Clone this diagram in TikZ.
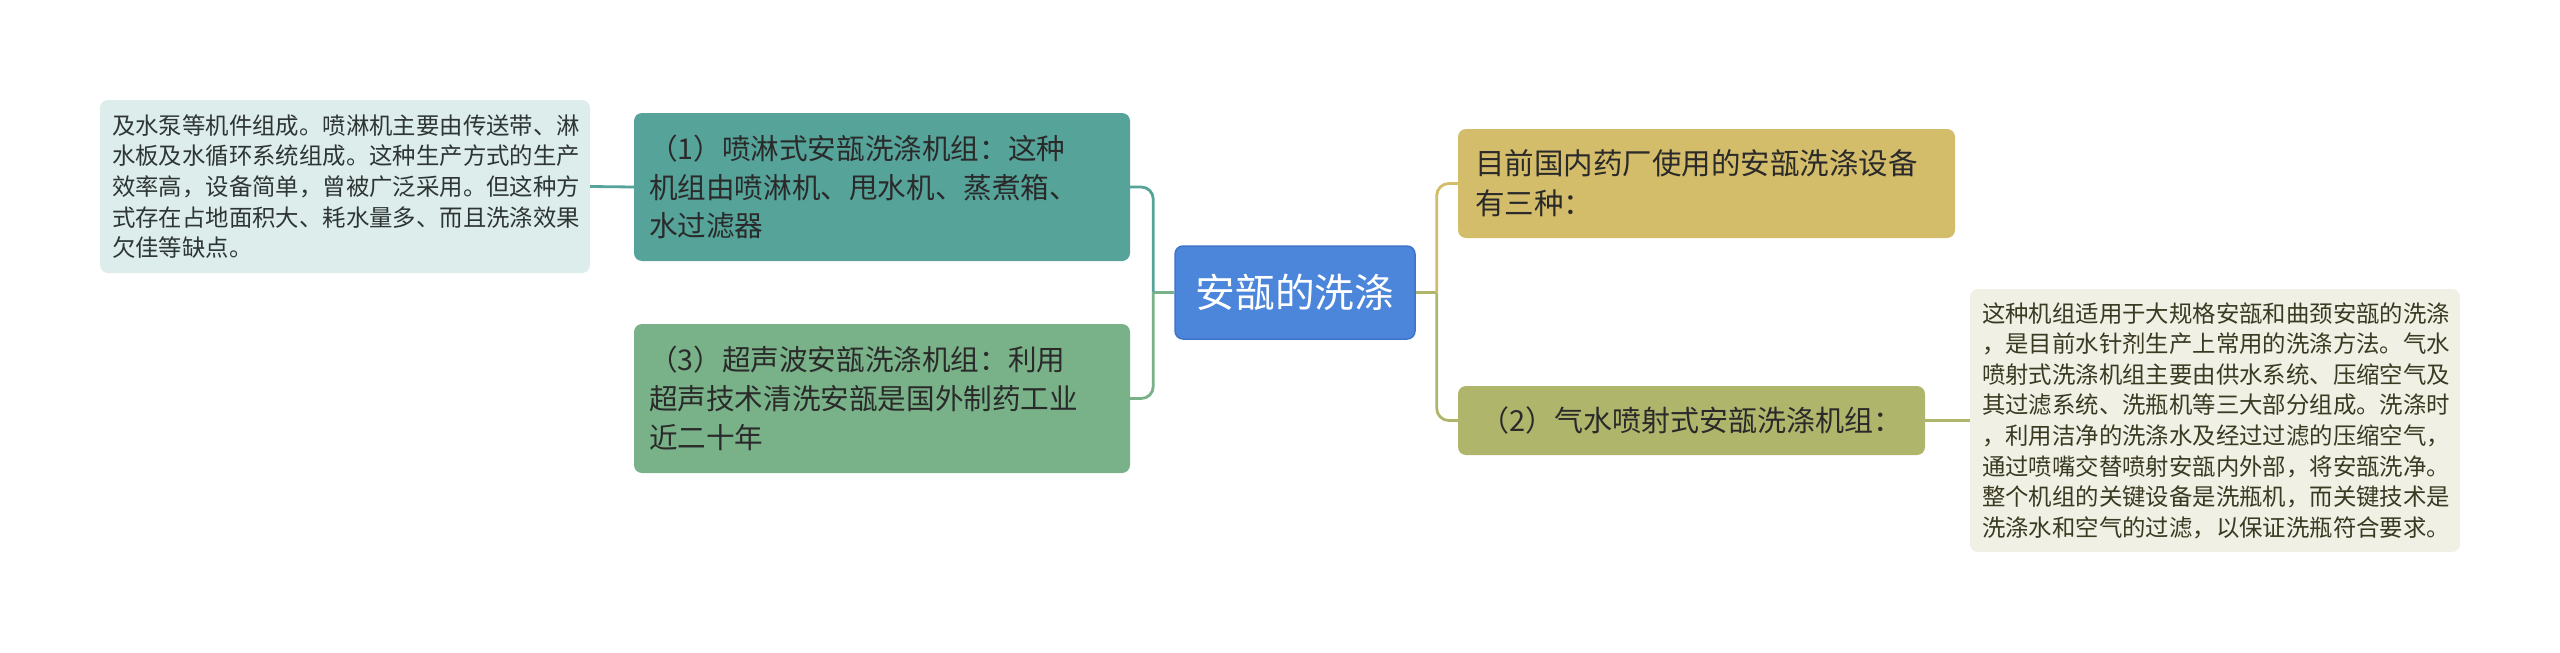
\documentclass[tikz,border=0pt]{standalone}
\usepackage{fontspec}
\setmainfont{Noto Sans CJK SC}
\definecolor{leafLfill}{HTML}{DDEDEB}
\definecolor{leafRfill}{HTML}{F0F0E5}
\definecolor{tealc}{HTML}{55A399}
\definecolor{greenc}{HTML}{79B288}
\definecolor{bluec}{HTML}{4C86DA}
\definecolor{blueb}{HTML}{3F74C9}
\definecolor{goldc}{HTML}{D3BC6A}
\definecolor{olivec}{HTML}{AFB66C}
\definecolor{darktext}{HTML}{2A2A2A}
\definecolor{olivetext}{HTML}{3A3A22}
\begin{document}
\begin{tikzpicture}[x=1pt,y=-1pt]
\useasboundingbox (0,0) rectangle (2560,653);
\tikzset{
  base/.style={rounded corners=8pt, inner ysep=0pt, anchor=center, text=darktext},
  leafbox/.style={base, minimum height=173pt, inner xsep=12pt, text width=466pt, align=left,
    font=\fontsize{23.4}{30.6}\selectfont},
  subbox/.style={base, inner xsep=15pt, text width=466pt, align=left,
    font=\fontsize{28.6}{38.8}\selectfont},
  rootbox/.style={base, fill=bluec, draw=blueb, line width=1.5pt, text=white,
    minimum width=240pt, minimum height=93pt, inner xsep=0pt,
    font=\fontsize{39.7}{46}\selectfont},
  link/.style={line width=2.8pt},
}
% nodes
\node[rootbox] (root) at (1295,292.5) {安瓿的洗涤};
\node[subbox, fill=tealc, minimum height=148pt] (n1) at (882,187) {（1）喷淋式安瓿洗涤机组：这种\\机组由喷淋机、甩水机、蒸煮箱、\\水过滤器};
\node[subbox, fill=greenc, minimum height=149pt] (n3) at (882,398.5) {（3）超声波安瓿洗涤机组：利用\\超声技术清洗安瓿是国外制药工业\\近二十年};
\node[leafbox, fill=leafLfill, text=darktext!90!tealc] (lleaf) at (345,186.5) {及水泵等机件组成。喷淋机主要由传送带、淋\\水板及水循环系统组成。这种生产方式的生产\\效率高，设备简单，曾被广泛采用。但这种方\\式存在占地面积大、耗水量多、而且洗涤效果\\欠佳等缺点。};
\node[base, fill=goldc, minimum height=109pt, inner xsep=17pt, text width=463pt, align=left,
  font=\fontsize{29.5}{40}\selectfont] (ntop) at (1706.5,183.5) {目前国内药厂使用的安瓿洗涤设备\\有三种：};
\node[base, fill=olivec, minimum width=467pt, minimum height=69pt, inner xsep=0pt,
  font=\fontsize{29}{36}\selectfont] (n2) at (1691.5,420.5) {（2）气水喷射式安瓿洗涤机组：};
\node[leafbox, fill=leafRfill, text=olivetext, minimum height=263pt] (rleaf) at (2215,420.5) {这种机组适用于大规格安瓿和曲颈安瓿的洗涤\\，是目前水针剂生产上常用的洗涤方法。气水\\喷射式洗涤机组主要由供水系统、压缩空气及\\其过滤系统、洗瓶机等三大部分组成。洗涤时\\，利用洁净的洗涤水及经过过滤的压缩空气，\\通过喷嘴交替喷射安瓿内外部，将安瓿洗净。\\整个机组的关键设备是洗瓶机，而关键技术是\\洗涤水和空气的过滤，以保证洗瓶符合要求。};
% connectors
\draw[link, greenc] (root.west) -- ++(-21,0) coordinate (jl);
\draw[link, tealc, rounded corners=12pt] (jl) |- (n1.east);
\draw[link, greenc, rounded corners=12pt] (jl) |- (n3.east);
\draw[link, olivec] (root.east) -- ++(21,0) coordinate (jr);
\draw[link, goldc, rounded corners=12pt] (jr) |- (ntop.west);
\draw[link, olivec, rounded corners=12pt] (jr) |- (n2.west);
\draw[link, tealc] (n1.west) -- (lleaf.east);
\draw[link, olivec] (n2.east) -- (rleaf.west);
\end{tikzpicture}
\end{document}
